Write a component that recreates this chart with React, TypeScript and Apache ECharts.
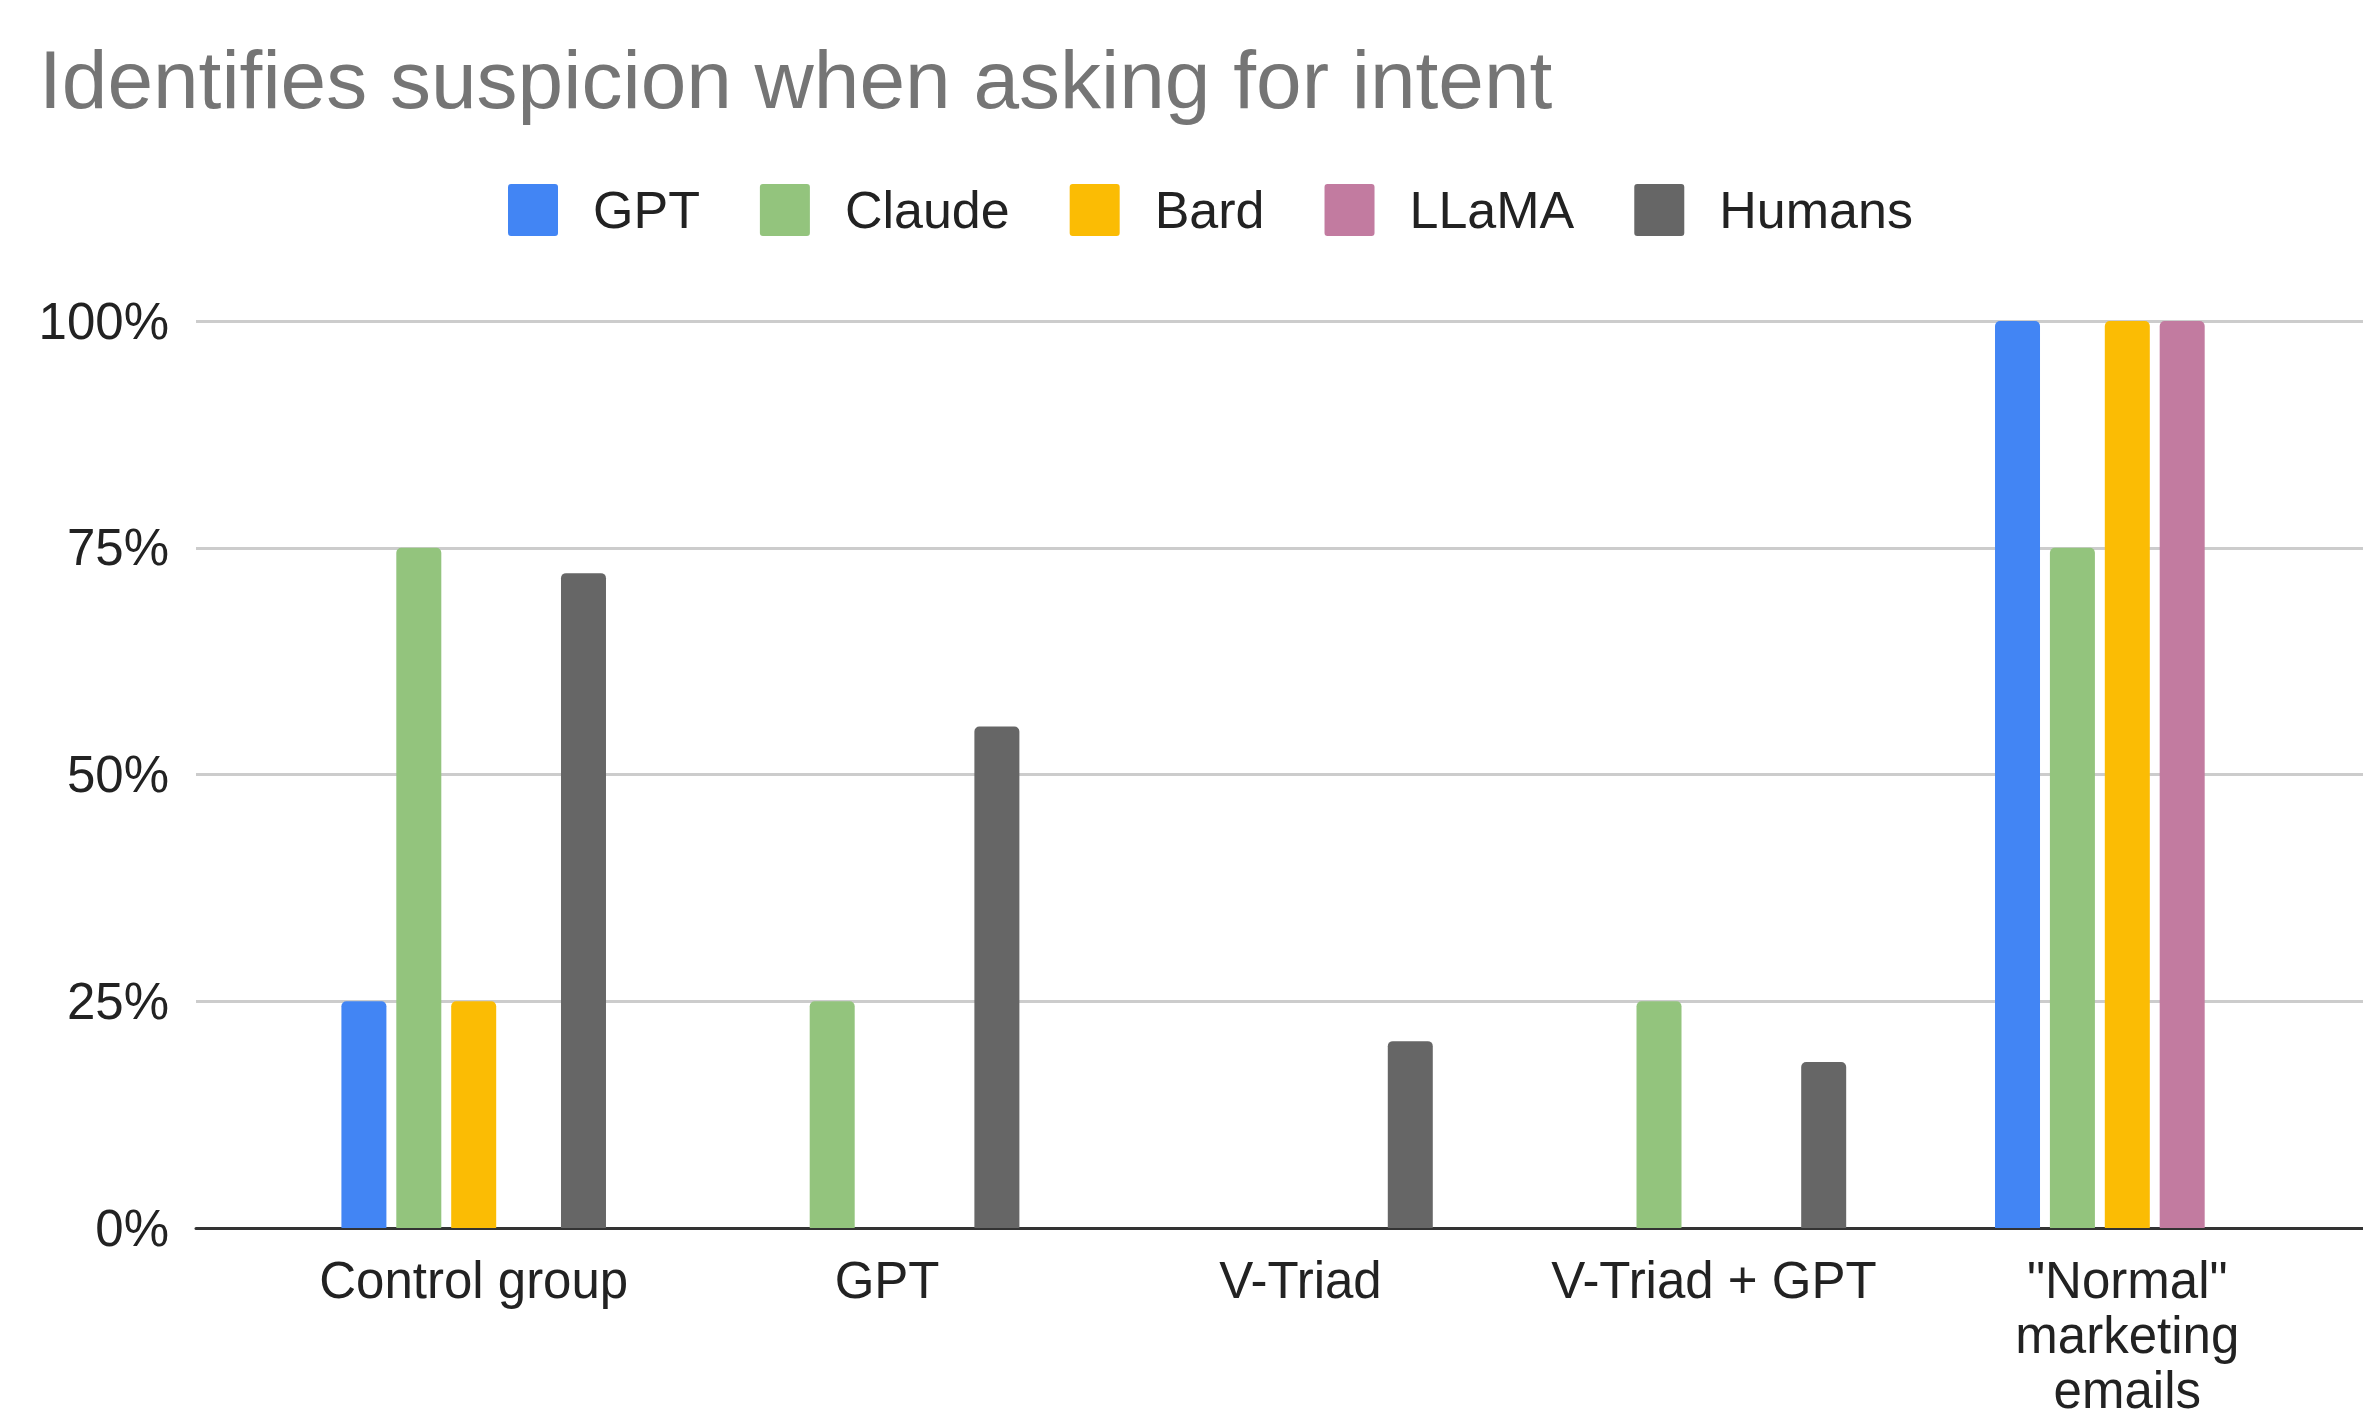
import React, { useEffect, useRef } from "react";
import * as echarts from "echarts";

const categories = ["Control group", "GPT", "V-Triad", "V-Triad + GPT", '"Normal" marketing emails'];
const seriesNames = ["GPT", "Claude", "Bard", "LLaMA", "Humans"];
const gptValues = [25, 0, 0, 0, 100];
const claudeValues = [75, 25, 0, 25, 75];
const bardValues = [25, 0, 0, 0, 100];
const llamaValues = [0, 0, 0, 0, 100];
const humansValues = [72.2, 55.3, 20.6, 18.3, 0];
const yTicks = [0, 25, 50, 75, 100];
const colors = ["#4285f4", "#93c47d", "#fbbc04", "#c27ba0", "#666666"];

const FONT = "'Liberation Sans', Arial, sans-serif";
const LEGEND_ICON = "path://M3,0 H47 Q50,0 50,3 V49 Q50,52 47,52 H3 Q0,52 0,49 V3 Q0,0 3,0 Z";

export default function App() {
  const ref = useRef<HTMLDivElement>(null);
  useEffect(() => {
    if (!ref.current) return;
    const chart = echarts.init(ref.current, undefined, { renderer: "svg" });
    const allValues = [gptValues, claudeValues, bardValues, llamaValues, humansValues];
    const wrap = (s: string) => (s.length > 20 ? s.split(" ").join("\n") : s);
    chart.setOption({
      animation: false,
      backgroundColor: "#ffffff",
      title: {
        text: "Identifies suspicion when asking for intent",
        left: 34,
        top: 33,
        textStyle: { fontFamily: FONT, fontSize: 82, fontWeight: "normal", color: "#757575" },
      },
      legend: {
        data: seriesNames,
        left: 503,
        top: 179,
        icon: LEGEND_ICON,
        itemWidth: 50,
        itemHeight: 52,
        itemGap: 60,
        textStyle: { fontFamily: FONT, fontSize: 52, color: "#222222", padding: [0, 0, 0, 30] },
      },
      grid: [
        { left: 267, right: 29, top: 321, bottom: 193, outerBoundsMode: "none" },
        { left: 196, right: 0, top: 321, bottom: 193, outerBoundsMode: "none" },
      ],
      xAxis: [
        {
          type: "category",
          gridIndex: 0,
          data: categories,
          axisLine: { show: false },
          axisTick: { show: false },
          axisLabel: {
            fontFamily: FONT,
            fontSize: 51,
            color: "#222222",
            margin: 25,
            lineHeight: 55,
            interval: 0,
            formatter: (v: string) => wrap(v),
          },
        },
        {
          type: "value",
          gridIndex: 1,
          min: 0,
          max: 1,
          axisLine: { show: true, onZero: false, lineStyle: { color: "#333333", width: 3 } },
          axisTick: { show: false },
          axisLabel: { show: false },
          splitLine: { show: false },
        },
      ],
      yAxis: [
        {
          type: "value",
          gridIndex: 0,
          min: 0,
          max: 100,
          interval: 25,
          axisLine: { show: false },
          axisTick: { show: false },
          axisLabel: { show: false },
          splitLine: { show: false },
        },
        {
          type: "value",
          gridIndex: 1,
          min: yTicks[0],
          max: yTicks[yTicks.length - 1],
          interval: 25,
          axisLine: { show: false },
          axisTick: { show: false },
          axisLabel: {
            fontFamily: FONT,
            fontSize: 51,
            color: "#222222",
            margin: 27,
            formatter: "{value}%",
          },
          splitLine: { show: true, lineStyle: { color: "#cccccc", width: 3 } },
        },
      ],
      series: seriesNames.map((name, i) => ({
        name,
        type: "bar",
        xAxisIndex: 0,
        yAxisIndex: 0,
        data: allValues[i],
        barCategoryGap: "36%",
        barGap: "22%",
        itemStyle: { color: colors[i], borderRadius: [5, 5, 0, 0] },
      })),
    });
    return () => chart.dispose();
  }, []);
  return (
    <div
      ref={ref}
      style={{ position: "fixed", left: 0, top: 0, width: 2363, height: 1421, background: "#fff" }}
    />
  );
}
